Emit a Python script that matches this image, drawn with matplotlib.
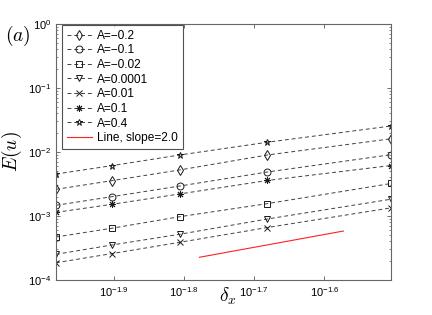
import numpy as np
import matplotlib
matplotlib.use("Agg")
import matplotlib.pyplot as plt
from matplotlib.ticker import FixedLocator, FixedFormatter, LogLocator, NullLocator

plt.rcParams['font.family'] = ['Liberation Sans', 'DejaVu Sans']

# data
dx = [1/96, 1/80, 1/64, 1/48, 1/32]
labels = ['A=\u22120.2', 'A=\u22120.1', 'A=\u22120.02', 'A=0.0001', 'A=0.01', 'A=0.1', 'A=0.4']
E_m02 = [2.61e-3, 3.56e-3, 5.24e-3, 8.98e-3, 1.61e-2]
E_m01 = [1.47e-3, 2.00e-3, 2.94e-3, 4.87e-3, 9.08e-3]
E_m002 = [4.70e-4, 6.43e-4, 9.75e-4, 1.56e-3, 3.22e-3]
E_00001 = [2.52e-4, 3.52e-4, 5.18e-4, 8.98e-4, 1.83e-3]
E_001 = [1.86e-4, 2.58e-4, 3.88e-4, 6.61e-4, 1.34e-3]
E_01 = [1.14e-3, 1.52e-3, 2.21e-3, 3.59e-3, 6.15e-3]
E_04 = [4.53e-3, 6.11e-3, 8.98e-3, 1.42e-2, 2.55e-2]
series = [E_m02, E_m01, E_m002, E_00001, E_001, E_01, E_04]
markers = ['d', 'o', 's', 'v', 'x', (8, 2, 0), '*']

ref_x = [10**-1.778, 10**-1.573]
ref_C = 10**-0.089
ref_slope = 2.0

xticks = [10**-1.9, 10**-1.8, 10**-1.7, 10**-1.6]
xticklabels = ['$\\mathdefault{10^{-1.9}}$', '$\\mathdefault{10^{-1.8}}$',
               '$\\mathdefault{10^{-1.7}}$', '$\\mathdefault{10^{-1.6}}$']

fig = plt.figure(figsize=(4.32, 3.15), dpi=100)
ax = fig.add_axes([56/432, 35/315, (391-56)/432, (280-24)/315])

for vals, lab, mk in zip(series, labels, markers):
    ax.plot(dx, vals, linestyle=(0, (4, 3)), color='0.25', lw=0.7,
            marker=mk, markersize=5, markerfacecolor='none',
            markeredgecolor='0.1', markeredgewidth=0.7, label=lab)

rx = np.array(ref_x)
ax.plot(rx, ref_C * rx**ref_slope, color='#ff2020', lw=0.8, label='Line, slope=2.0')

ax.set_xscale('log')
ax.set_yscale('log')
ax.set_xlim(dx[0], dx[-1])
ax.set_ylim(1e-4, 1e0)

ax.xaxis.set_major_locator(FixedLocator(xticks))
ax.xaxis.set_major_formatter(FixedFormatter(xticklabels))
ax.xaxis.set_minor_locator(NullLocator())
ax.yaxis.set_major_locator(LogLocator(base=10, numticks=10))
ax.yaxis.set_minor_locator(LogLocator(base=10, subs=np.arange(2, 10), numticks=20))

ax.tick_params(which='both', direction='in', top=True, right=True, labelsize=8, colors='0.35', labelcolor='black')
ax.tick_params(which='major', length=3, width=0.6)
ax.tick_params(which='minor', length=1.5, width=0.5)
for s in ax.spines.values():
    s.set_color('0.4')
    s.set_linewidth(0.8)

ax.set_ylabel('$E(u)$', fontsize=14, math_fontfamily='cm', labelpad=3)
ax.set_xlabel('$\\delta_x$', fontsize=14, math_fontfamily='cm', va='center')
ax.xaxis.set_label_coords(0.513, -0.064)
fig.text(0.012, 0.87, '$(a)$', fontsize=14, math_fontfamily='cm')

leg = ax.legend(loc='upper left', bbox_to_anchor=(6/335, 1 - 1/256), borderaxespad=0,
                fontsize=8.6, frameon=True, fancybox=False,
                edgecolor='0.15', handlelength=2.1,
                labelspacing=0.22, borderpad=0.4, handletextpad=0.45)
leg.get_frame().set_linewidth(0.8)

fig.savefig('out.png', dpi=100)
